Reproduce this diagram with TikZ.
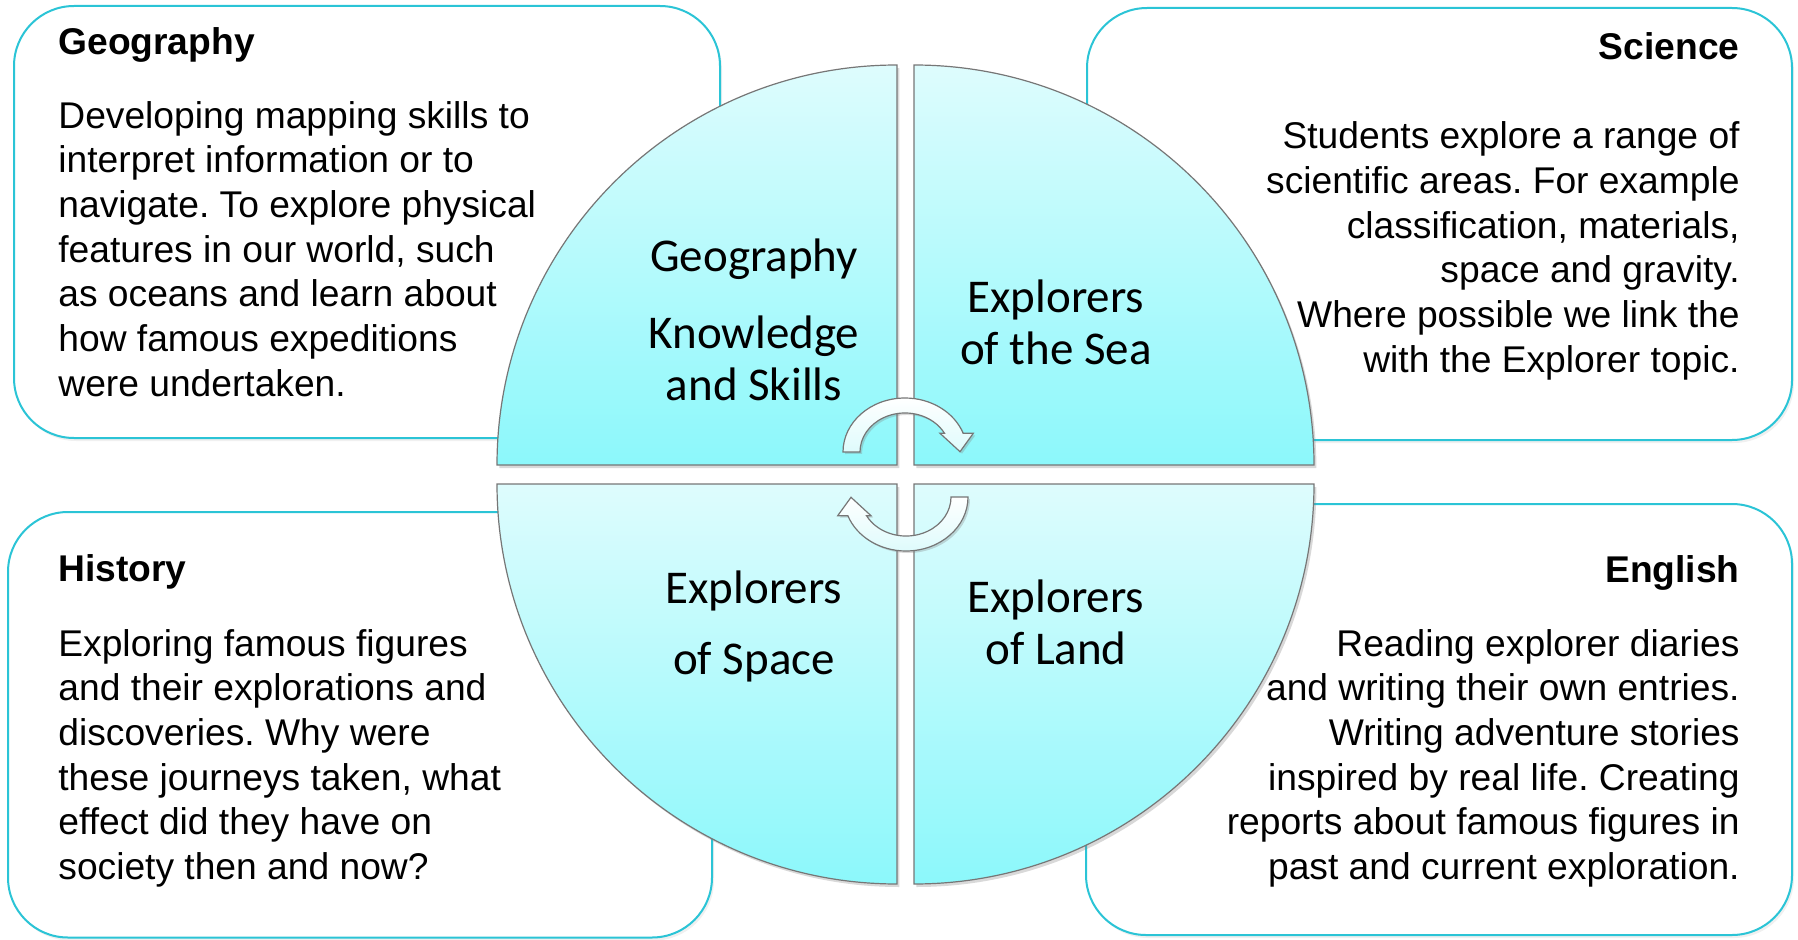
\documentclass[tikz,border=0pt]{standalone}
\usepackage{fontspec}
\setmainfont{Liberation Sans}
\newfontfamily\calib{Carlito}
\usetikzlibrary{shadows}
\frenchspacing
\definecolor{boxline}{RGB}{43,196,214}
\definecolor{quadtop}{RGB}{222,252,253}
\definecolor{quadbot}{RGB}{140,248,251}
\definecolor{quadline}{RGB}{118,118,118}
\definecolor{arrowfill}{RGB}{222,251,252}

\begin{document}
\begin{tikzpicture}[x=0.5pt,y=0.5pt,
  panel/.style={draw=boxline,line width=1pt,fill=white,rounded corners=30pt,
    drop shadow={shadow xshift=1pt,shadow yshift=-1.5pt,opacity=0.12}},
  quad/.style={draw=quadline,line width=0.6pt,top color=quadtop,bottom color=quadbot,
    drop shadow={shadow xshift=1.2pt,shadow yshift=-1.5pt,opacity=0.3}},
  turn/.style={draw=quadline,line width=0.6pt,top color=white,bottom color=arrowfill,
    drop shadow={shadow xshift=1pt,shadow yshift=-1pt,opacity=0.3}},
  head/.style={font=\fontsize{18.6}{22.35}\selectfont\bfseries,inner sep=0pt},
  body/.style={font=\fontsize{18.6}{22.35}\selectfont,inner sep=0pt},
  topic/.style={font=\calib\fontsize{23.5}{26}\selectfont,inner sep=0pt,align=center,anchor=north}]
\useasboundingbox (0,0) rectangle (1798,939);
% subject boxes
\draw[panel] (14,501) rectangle (720,933);
\draw[panel] (1087,499) rectangle (1792,931);
\draw[panel] (8,1.5) rectangle (712,427);
\draw[panel] (1086,4) rectangle (1792,435);
% circle quarters
\draw[quad] (897,474) -- (497,474) arc[start angle=180,end angle=90,radius=400] -- cycle;
\draw[quad] (914,474) -- (914,874) arc[start angle=90,end angle=0,radius=400] -- cycle;
\draw[quad] (897,455) -- (497,455) arc[start angle=180,end angle=270,radius=400] -- cycle;
\draw[quad] (914,455) -- (914,55) arc[start angle=270,end angle=360,radius=400] -- cycle;
% turning arrows
\draw[turn] (843,487) arc[start angle=180,end angle=20.3,x radius=62,y radius=54]
  -- (973.3,505.7) -- (960,487.3) -- (940,505.7) -- (944.5,505.7)
  arc[start angle=28.6,end angle=180,x radius=45,y radius=39] -- cycle;
\draw[turn] (968,442) arc[start angle=0,end angle=-159.7,x radius=62,y radius=54]
  -- (837.7,423.3) -- (851,441.7) -- (871,423.3) -- (866.5,423.3)
  arc[start angle=-151.4,end angle=0,x radius=45,y radius=39] -- cycle;
% quarter labels
\node[topic] (geoq) at (754,704) {\strut Geography\\[12.3pt]Knowledge\\and Skills};
\node[topic] (seaq) at (1056,663) {\strut Explorers\\of the Sea};
\node[topic] (spaceq) at (754,372.5) {\strut Explorers\\[9.8pt]of Space};
\node[topic] (landq) at (1056,363) {\strut Explorers\\of Land};
% box texts
\node[head,anchor=base west] (geohead) at (58,884.5) {Geography};
\node[body,anchor=north west,align=left] (geotext) at (58,842.5) {\strut Developing mapping skills to\\interpret information or to\\navigate. To explore physical\\features in our world, such\\as oceans and learn about\\how famous expeditions\\were undertaken.};
\node[head,anchor=base east] (scihead) at (1740,879.5) {Science};
\node[body,anchor=north east,align=right] (scitext) at (1740,821.8) {\strut Students explore a range of\\scientific areas. For example\\classification, materials,\\space and gravity.\\Where possible we link the\\with the Explorer topic.};
\node[head,anchor=base west] (histhead) at (58,358) {History};
\node[body,anchor=north west,align=left] (histtext) at (58,314.5) {\strut Exploring famous figures\\and their explorations and\\discoveries. Why were\\these journeys taken, what\\effect did they have on\\society then and now?};
\node[head,anchor=base east] (enghead) at (1740,356.3) {English};
\node[body,anchor=north east,align=right] (engtext) at (1740,314.5) {\strut Reading explorer diaries\\and writing their own entries.\\Writing adventure stories\\inspired by real life. Creating\\reports about famous figures in\\past and current exploration.};
\end{tikzpicture}
\end{document}
